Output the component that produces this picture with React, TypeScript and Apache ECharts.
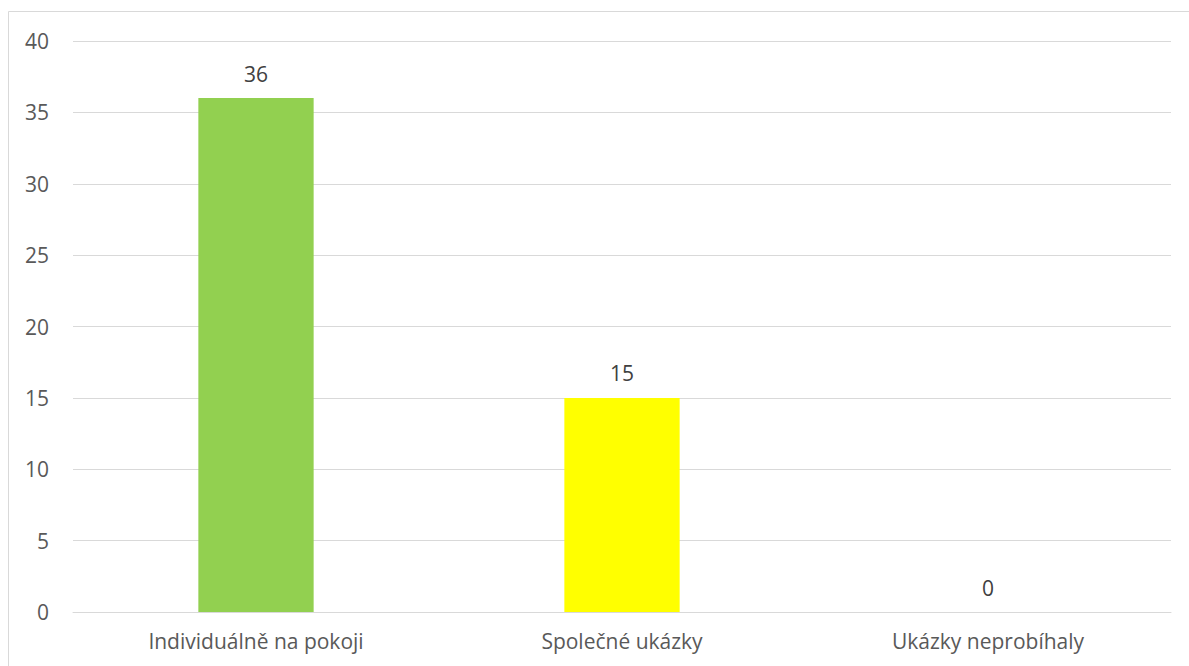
import React, { useEffect, useRef } from "react";
import * as echarts from "echarts";

const categories = ["Individuálně na pokoji", "Společné ukázky", "Ukázky neprobíhaly"];
const values = [36, 15, 0];
const barColors = ["#92D050", "#FFFF00", "#A5A5A5"];

export default function App() {
  const ref = useRef<HTMLDivElement>(null);
  useEffect(() => {
    document.body.style.margin = "0";
    const chart = echarts.init(ref.current!, null, { renderer: "svg" });
    const font = "'Open Sans', 'Liberation Sans', sans-serif";
    chart.setOption({
      animation: false,
      backgroundColor: "#ffffff",
      graphic: [
        {
          type: "rect",
          shape: { x: 8.5, y: 11.5, width: 1200, height: 700 },
          style: { fill: "none", stroke: "#D9D9D9", lineWidth: 1 },
          silent: true,
        },
      ],
      grid: { left: 73, right: 18, top: 41, bottom: 54 },
      xAxis: {
        type: "category",
        data: categories,
        axisLine: { lineStyle: { color: "#D9D9D9", width: 1 } },
        axisTick: { show: false },
        axisLabel: { color: "#595959", fontSize: 21, fontFamily: font, margin: 18 },
      },
      yAxis: {
        type: "value",
        min: 0,
        max: 40,
        interval: 5,
        axisLine: { show: false },
        axisTick: { show: false },
        splitLine: { lineStyle: { color: "#D9D9D9", width: 1 } },
        axisLabel: { color: "#595959", fontSize: 21, fontFamily: font, margin: 24 },
      },
      series: [
        {
          type: "bar",
          barWidth: "31.5%",
          data: values.map((v, i) => ({ value: v, itemStyle: { color: barColors[i] } })),
          label: {
            show: true,
            position: "top",
            distance: 14,
            color: "#404040",
            fontSize: 21,
            fontFamily: font,
          },
        },
      ],
    });
    return () => chart.dispose();
  }, []);
  return <div ref={ref} style={{ width: 1189, height: 666 }} />;
}
